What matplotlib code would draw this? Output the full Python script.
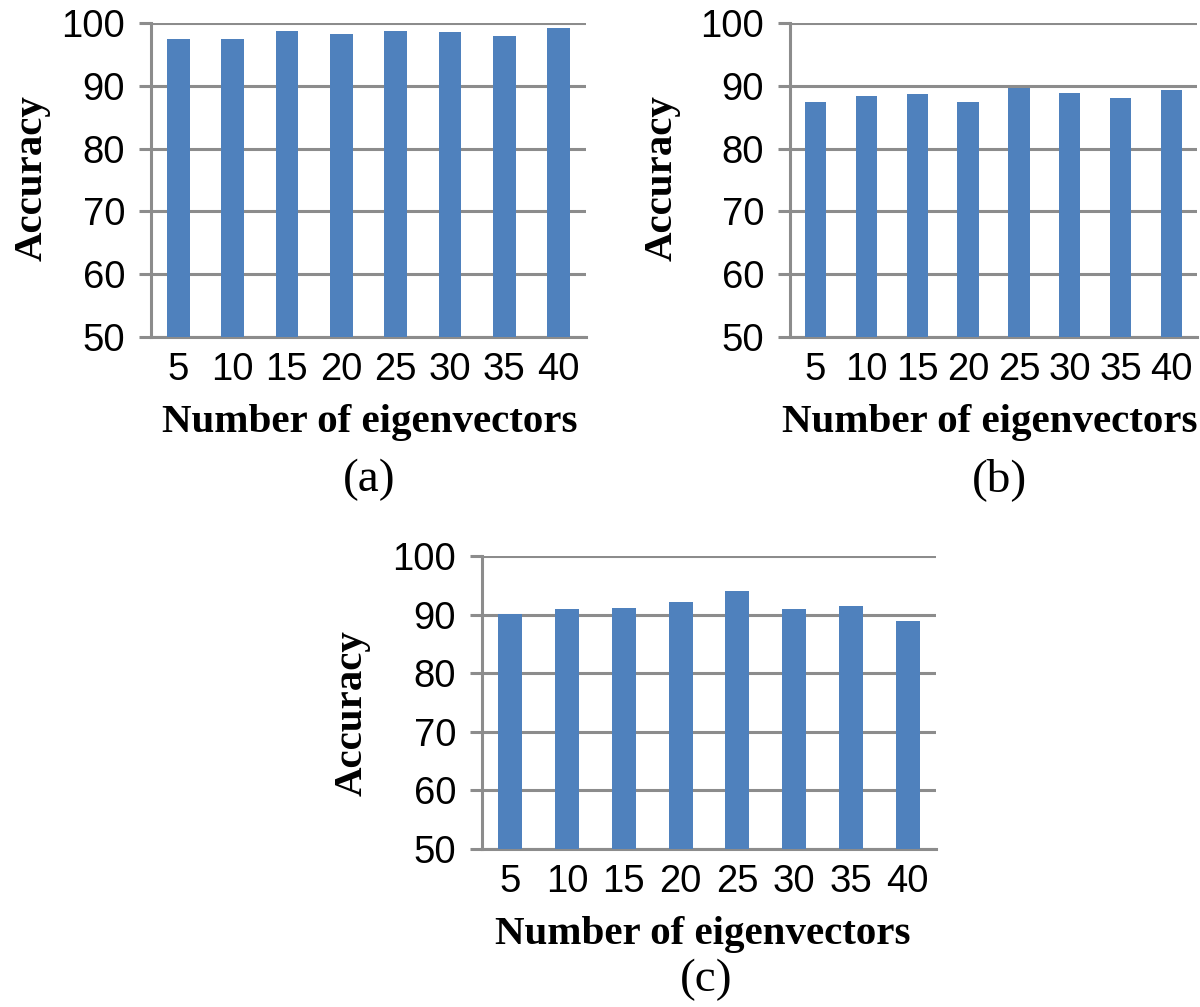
import matplotlib
matplotlib.use("Agg")
import matplotlib.pyplot as plt

categories = ["5", "10", "15", "20", "25", "30", "35", "40"]
acc_a = [97.5, 97.5, 98.7, 98.2, 98.7, 98.5, 98.0, 99.2]
acc_b = [87.5, 88.4, 88.7, 87.5, 89.7, 88.9, 88.1, 89.4]
acc_c = [90.1, 91.0, 91.2, 92.1, 94.0, 91.0, 91.4, 88.9]
yticks = [50, 60, 70, 80, 90, 100]
panel_labels = ["(a)", "(b)", "(c)"]
xlabel_text = "Number of eigenvectors"
ylabel_text = "Accuracy"

W, H = 1200, 1007
fig = plt.figure(figsize=(W / 100, H / 100), dpi=100)

BAR = "#4F81BD"
GRID = "#8C8C8C"
SANS = ["Liberation Sans", "DejaVu Sans"]
SERIF = ["Liberation Serif", "DejaVu Serif"]


def px_axes(x0, y0, x1, y1):
    return fig.add_axes([x0 / W, 1 - y1 / H, (x1 - x0) / W, (y1 - y0) / H])


def draw(ax, vals, tick_fs):
    x = list(range(len(categories)))
    ax.bar(x, vals, width=0.42, color=BAR, zorder=3)
    ax.set_xlim(-0.5, len(categories) - 0.5)
    ax.set_ylim(50, 100)
    ax.set_yticks(yticks)
    ax.set_yticklabels([str(v) for v in yticks], fontfamily=SANS, fontsize=tick_fs)
    ax.set_xticks(x)
    ax.set_xticklabels(categories, fontfamily=SANS, fontsize=tick_fs)
    ax.yaxis.grid(True, color=GRID, linewidth=2.2, zorder=1)
    ax.set_axisbelow(True)
    for s in ["top", "right"]:
        ax.spines[s].set_visible(False)
    ax.spines["left"].set_color(GRID)
    ax.spines["left"].set_linewidth(2.2)
    ax.spines["bottom"].set_color(GRID)
    ax.spines["bottom"].set_linewidth(2.2)
    ax.tick_params(axis="y", direction="out", length=8.6, width=2.2, color=GRID, pad=10)
    ax.tick_params(axis="x", length=0, pad=11)


fs = 27.5
ax_a = px_axes(151, 23, 586, 337)
draw(ax_a, acc_a, fs)
ax_b = px_axes(790, 23, 1197, 337)
draw(ax_b, acc_b, fs)
ax_c = px_axes(482, 556, 936, 849)
draw(ax_c, acc_c, fs)

lab_fs = 29.5
# x labels
for (xp, yp) in [(370, 432), (990, 432), (703, 944)]:
    fig.text(xp / W, 1 - yp / H, xlabel_text, ha="center", va="baseline",
             fontfamily=SERIF, fontweight="bold", fontsize=lab_fs)

# y labels
for (xp, yp) in [(32, 178), (662, 178), (352, 713)]:
    fig.text(xp / W, 1 - yp / H, ylabel_text, ha="center", va="center", rotation=90,
             fontfamily=SERIF, fontweight="bold", fontsize=lab_fs)

# panel labels
for lab, (xp, yp) in zip(panel_labels, [(369, 491), (1000, 491), (706, 991)]):
    fig.text(xp / W, 1 - yp / H, lab, ha="center", va="baseline",
             fontfamily=SERIF, fontsize=34)

fig.savefig("out.png", dpi=100)
